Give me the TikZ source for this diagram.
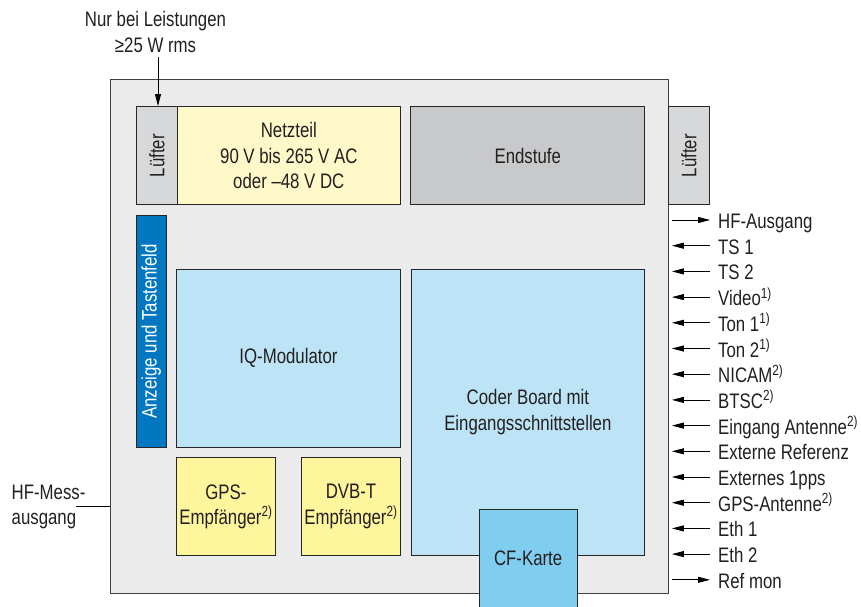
\documentclass[tikz,border=0pt]{standalone}
\usepackage{fontspec}
\setmainfont{Liberation Sans}[FakeStretch=0.8]
\usetikzlibrary{arrows.meta}

\definecolor{caseGray}{HTML}{EBEBEB}
\definecolor{fanGray}{HTML}{D7D8DA}
\definecolor{ampGray}{HTML}{C8C9CB}
\definecolor{psuYellow}{HTML}{FFF8C8}
\definecolor{rxYellow}{HTML}{FFF59D}
\definecolor{modBlue}{HTML}{BDE4F6}
\definecolor{panelBlue}{HTML}{0077C0}
\definecolor{cfBlue}{HTML}{80CEEF}
\definecolor{textGray}{HTML}{231F20}

\tikzset{
    block/.style={draw=black!85, line width=0.9pt, inner sep=0pt, anchor=north west,
        align=center, text=textGray, font=\fontsize{21}{25.5}\selectfont},
    vtext/.style={rotate=90, inner sep=0pt, text=textGray, font=\fontsize{21}{24}\selectfont},
    sig/.style={inner sep=0pt, anchor=west, text height=17pt, text depth=0pt,
        text=textGray, font=\fontsize{21}{24}\selectfont},
    sigarrow/.style={-{Triangle[length=12pt,width=6pt]}, line width=0.8pt}
}

\begin{document}
\begin{tikzpicture}[x=1pt, y=-1pt]
    \useasboundingbox (0,0) rectangle (861,606);

    %Define the housing
    \node[block, draw=black!75, fill=caseGray, minimum width=558pt, minimum height=514pt] (outer) at (110.3,79) {};

    % Add the fans and the power supply
    \node[block, fill=fanGray, minimum width=40.7pt, minimum height=98.3pt] (lueftL) at (136,106) {};
    \node[vtext] (lueftLtxt) at (lueftL.center) {Lüfter};
    \node[block, fill=psuYellow, minimum width=223.3pt, minimum height=98.3pt] (netzteil) at (176.7,106)
        {Netzteil\\90 V bis 265 V AC\\oder –48 V DC};
    \node[block, fill=ampGray, minimum width=234pt, minimum height=98.3pt] (endstufe) at (410.3,106) {Endstufe};
    \node[block, fill=fanGray, minimum width=40.4pt, minimum height=98.3pt] (lueftR) at (668.3,106) {};
    \node[vtext] (lueftRtxt) at (lueftR.center) {Lüfter};

    % Add the display panel
    \node[block, fill=panelBlue, minimum width=29.7pt, minimum height=231.7pt] (anzeige) at (136,215) {};
    \node[vtext, text=white] (anzeigetxt) at (anzeige.center) {Anzeige und Tastenfeld};

    % Add the modulator and the coder board
    \node[block, fill=modBlue, minimum width=223.4pt, minimum height=178pt] (iqmod) at (176.3,268.7) {IQ-Modulator};
    \node[block, fill=modBlue, minimum width=233.8pt, minimum height=286.3pt] (coder) at (410.5,268.7)
        {Coder Board mit\\Eingangsschnittstellen};

    % Add the receivers
    \node[block, fill=rxYellow, minimum width=98.4pt, minimum height=97.7pt] (gps) at (176.3,457.3)
        {GPS-\\Empfänger\textsuperscript{2)}};
    \node[block, fill=rxYellow, minimum width=98.4pt, minimum height=97.7pt] (dvbt) at (301.3,457.3)
        {DVB-T\\Empfänger\textsuperscript{2)}};

    % Add the CF card
    \node[block, fill=cfBlue, minimum width=98pt, minimum height=99.5pt] (cfkarte) at (478.7,508.5) {CF-Karte};

    % Add the note on the fan
    \node[inner sep=0pt, anchor=south, align=center, text=textGray, font=\fontsize{21}{26.3}\selectfont]
        (note) at (155.5,53) {Nur bei Leistungen\\≥25 W rms};
    \draw[sigarrow] ([shift={(2.5pt,-4pt)}]note.south) -- ([xshift=2.5pt]note.south |- lueftL.north);

    % Add the measurement output
    \node[inner sep=0pt, anchor=west, align=left, text=textGray, font=\fontsize{21}{25}\selectfont]
        (hfmess) at (11.5,507.4) {HF-Mess-\\ausgang};
    \coordinate (messend) at (76,506);
    \draw[line width=0.8pt] (messend) -- (messend -| outer.west);

    % Add the signal labels
    \node[sig] (hfaus) at (718,220) {HF-Ausgang};
    \node[sig] (ts1) at (718,245.7) {TS 1};
    \node[sig] (ts2) at (718,271.4) {TS 2};
    \node[sig] (video) at (718,297.1) {Video\textsuperscript{1)}};
    \node[sig] (ton1) at (718,322.8) {Ton 1\textsuperscript{1)}};
    \node[sig] (ton2) at (718,348.5) {Ton 2\textsuperscript{1)}};
    \node[sig] (nicam) at (718,374.2) {NICAM\textsuperscript{2)}};
    \node[sig] (btsc) at (718,399.9) {BTSC\textsuperscript{2)}};
    \node[sig] (antenne) at (718,425.6) {Eingang Antenne\textsuperscript{2)}};
    \node[sig] (extref) at (718,451.3) {Externe Referenz};
    \node[sig] (pps) at (718,477) {Externes 1pps};
    \node[sig] (gpsant) at (718,502.7) {GPS-Antenne\textsuperscript{2)}};
    \node[sig] (eth1) at (718,528.4) {Eth 1};
    \node[sig] (eth2) at (718,554.1) {Eth 2};
    \node[sig] (refmon) at (718,579.8) {Ref mon};

    % Add the outputs
    \draw[sigarrow] ([xshift=2.7pt]outer.east |- hfaus.west) -- ([xshift=-8pt]hfaus.west);
    \draw[sigarrow] ([xshift=2.7pt]outer.east |- refmon.west) -- ([xshift=-8pt]refmon.west);

    % Add the inputs
    \draw[sigarrow] ([xshift=-8pt]ts1.west) -- ([xshift=2.7pt]outer.east |- ts1.west);
    \draw[sigarrow] ([xshift=-8pt]ts2.west) -- ([xshift=2.7pt]outer.east |- ts2.west);
    \draw[sigarrow] ([xshift=-8pt]video.west) -- ([xshift=2.7pt]outer.east |- video.west);
    \draw[sigarrow] ([xshift=-8pt]ton1.west) -- ([xshift=2.7pt]outer.east |- ton1.west);
    \draw[sigarrow] ([xshift=-8pt]ton2.west) -- ([xshift=2.7pt]outer.east |- ton2.west);
    \draw[sigarrow] ([xshift=-8pt]nicam.west) -- ([xshift=2.7pt]outer.east |- nicam.west);
    \draw[sigarrow] ([xshift=-8pt]btsc.west) -- ([xshift=2.7pt]outer.east |- btsc.west);
    \draw[sigarrow] ([xshift=-8pt]antenne.west) -- ([xshift=2.7pt]outer.east |- antenne.west);
    \draw[sigarrow] ([xshift=-8pt]extref.west) -- ([xshift=2.7pt]outer.east |- extref.west);
    \draw[sigarrow] ([xshift=-8pt]pps.west) -- ([xshift=2.7pt]outer.east |- pps.west);
    \draw[sigarrow] ([xshift=-8pt]gpsant.west) -- ([xshift=2.7pt]outer.east |- gpsant.west);
    \draw[sigarrow] ([xshift=-8pt]eth1.west) -- ([xshift=2.7pt]outer.east |- eth1.west);
    \draw[sigarrow] ([xshift=-8pt]eth2.west) -- ([xshift=2.7pt]outer.east |- eth2.west);
\end{tikzpicture}
\end{document}
